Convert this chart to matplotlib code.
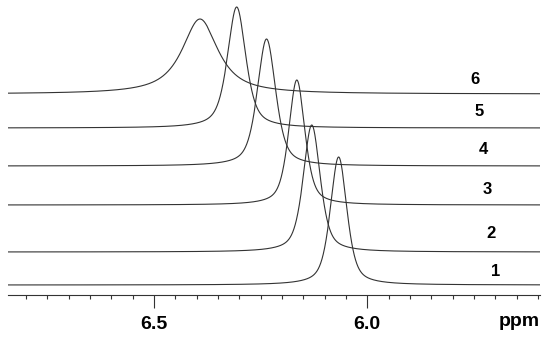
import numpy as np
import matplotlib.pyplot as plt
from matplotlib.ticker import MultipleLocator

plt.rcParams['font.family'] = ['Liberation Sans', 'DejaVu Sans']

# traces, bottom to top
traces = ["1", "2", "3", "4", "5", "6"]
# peak position (ppm), height, width at half height (ppm)
centres = [6.067, 6.130, 6.165, 6.236, 6.306, 6.392]
heights = [128, 127, 125, 127, 121, 75]
fwhm = [0.046, 0.047, 0.045, 0.051, 0.051, 0.101]
# lorentzian fraction of the line shape
lorentz = [0.55, 0.55, 0.55, 0.55, 0.6, 0.9]
# vertical offset of each trace
offsets = [10, 43, 90, 129, 167, 201]
# label placement above each baseline
label_gap = [13, 19, 15, 16, 16, 14]

ppm_ticks = [6.5, 6.0]
ppm_labels = ["6.5", "6.0"]


# pseudo-voigt line
def lineshape(x, c, h, w, eta):
    d = (x - c) / (w / 2.0)
    lor = 1.0 / (1.0 + d ** 2)
    gau = np.exp(-np.log(2) * d ** 2)
    return h * (eta * lor + (1 - eta) * gau)


fig = plt.figure(figsize=(5.5, 3.38), dpi=100)
ax = fig.add_axes([8 / 550, 43 / 338, 532 / 550, 295 / 338])
ax.set_xlim(6.842, 5.595)
ax.set_ylim(0, 295)

x = np.linspace(5.595, 6.842, 3000)
col = "#333333"
for i, name in enumerate(traces):
    y = offsets[i] + lineshape(x, centres[i], heights[i], fwhm[i], lorentz[i])
    ax.plot(x, y, color=col, lw=0.8)
    ax.text(5.700 + i * 0.0095, offsets[i] + label_gap[i], name,
            ha='center', va='center', fontsize=12, fontweight='bold')

for s in ['top', 'right', 'left']:
    ax.spines[s].set_visible(False)
ax.spines['bottom'].set_color(col)
ax.spines['bottom'].set_linewidth(0.8)
ax.set_yticks([])
ax.set_xticks(ppm_ticks)
ax.set_xticklabels(ppm_labels, fontsize=14, fontweight='bold')
ax.xaxis.set_minor_locator(MultipleLocator(0.05))
ax.tick_params(axis='x', which='major', length=9, width=0.8, color=col, pad=6)
ax.tick_params(axis='x', which='minor', length=3, width=0.8, color=col)

fig.text(519 / 550, 1 - 322 / 338, "ppm", ha='center', va='center',
         fontsize=14, fontweight='bold')

fig.savefig("out.png", dpi=100)
